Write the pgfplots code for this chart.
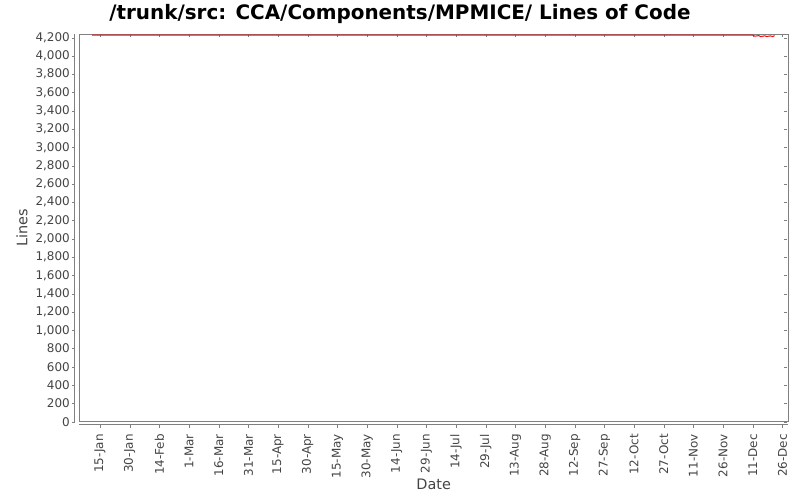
\documentclass[border=0pt]{standalone}
\usepackage{fontspec}
\setmainfont{DejaVu Sans}
\usepackage{pgfplots}
\pgfplotsset{compat=1.18}
\definecolor{axgray}{HTML}{808080}
\definecolor{txtgray}{HTML}{444444}
\begin{document}
\begin{tikzpicture}
\path[use as bounding box] (0,0) rectangle (800bp,500bp);
\begin{axis}[
  at={(79.3bp,78.3bp)}, anchor=south west,
  scale only axis,
  width=708.7bp, height=387.7bp,
  xmin=4.5, xmax=362.8,
  ymin=0, ymax=4240,
  xtick={15,30,...,360},
  xticklabels={15-Jan,30-Jan,14-Feb,1-Mar,16-Mar,31-Mar,15-Apr,30-Apr,15-May,30-May,14-Jun,29-Jun,14-Jul,29-Jul,13-Aug,28-Aug,12-Sep,27-Sep,12-Oct,27-Oct,11-Nov,26-Nov,11-Dec,26-Dec},
  ytick={0,200,...,4200},
  /pgf/number format/1000 sep={,},
  /pgf/number format/assume math mode=true,
  axis line style={axgray, line width=0.8bp},
  tick align=outside,
  major tick length=3bp,
  xtick style={axgray, yshift=-3bp},
  ytick style={axgray, xshift=-4bp},
  x tick label style={rotate=90, anchor=east, font=\fontsize{12}{14}\selectfont, text=txtgray, xshift=-6bp},
  y tick label style={font=\fontsize{12}{14}\selectfont, text=txtgray, xshift=-3bp},
  xlabel={Date},
  ylabel={Lines},
  xlabel style={at={(axis description cs:0.5,-0.1607)}, anchor=center, font=\fontsize{14.5}{16}\selectfont, text=txtgray},
  ylabel style={at={(axis description cs:-0.0809,0.5)}, anchor=center, font=\fontsize{14.5}{16}\selectfont, text=txtgray},
  title={/trunk/src: CCA/Components/MPMICE/ Lines of Code},
  title style={at={(axis description cs:0.4525,1.0524)}, anchor=center, yshift=-6pt, font=\bfseries\fontsize{20}{23}\selectfont},
  clip=false,
]
\addplot[red, line width=1bp] coordinates {
  (11,4228) (60,4228) (120,4228) (180,4228) (240,4228) (300,4228)
  (330,4228) (345,4228) (346,4216) (348,4222) (349,4212) (351,4220)
  (352,4213) (354,4219) (355,4212) (356,4222)
};
\draw[axgray, line width=0.8bp] ([xshift=-4.5bp]rel axis cs:0,0) -- ([xshift=-4.5bp]rel axis cs:0,1);
\draw[axgray, line width=0.8bp] ([yshift=-3bp]rel axis cs:0,0) -- ([yshift=-3bp]rel axis cs:1,0);
\end{axis}
\end{tikzpicture}
\end{document}
